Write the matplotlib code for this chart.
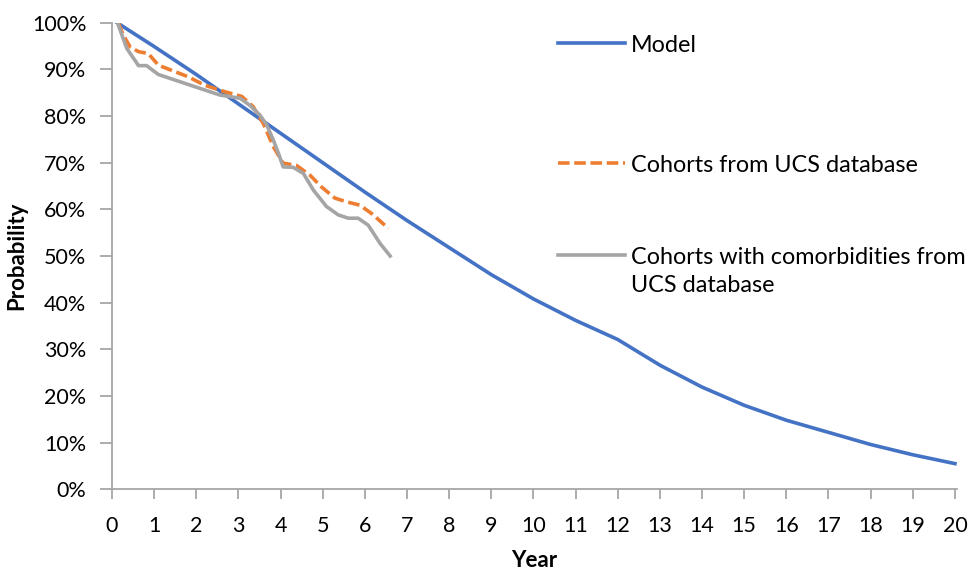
import matplotlib.pyplot as plt
from matplotlib.lines import Line2D
from matplotlib.ticker import PercentFormatter

plt.rcParams['font.family'] = ['Lato', 'DejaVu Sans']

# survival curves (year, probability)
model_years = [0.12, 1, 2, 3, 4, 5, 6, 7, 8, 9, 10, 11, 12, 13, 14, 15, 16, 17, 18, 19, 20]
model_prob = [1.0, 0.949, 0.889, 0.826, 0.763, 0.70, 0.637, 0.576, 0.518, 0.46, 0.408,
              0.362, 0.321, 0.266, 0.219, 0.18, 0.148, 0.122, 0.096, 0.074, 0.055]

ucs_years = [0.15, 0.27, 0.43, 0.63, 0.86, 1.10, 1.81, 2.20, 2.68, 3.08, 3.35, 3.59, 3.83,
             4.06, 4.38, 4.70, 4.97, 5.29, 5.57, 5.88, 6.16, 6.56]
ucs_prob = [1.0, 0.973, 0.948, 0.938, 0.934, 0.909, 0.884, 0.866, 0.852, 0.842, 0.82, 0.784,
            0.734, 0.699, 0.694, 0.673, 0.648, 0.624, 0.616, 0.609, 0.591, 0.559]

comorb_years = [0.13, 0.35, 0.63, 0.82, 1.10, 2.56, 2.84, 3.04, 3.27, 3.51, 3.67, 3.83, 3.95,
                4.06, 4.30, 4.54, 4.78, 5.09, 5.37, 5.61, 5.84, 6.08, 6.36, 6.60]
comorb_prob = [1.0, 0.945, 0.908, 0.908, 0.889, 0.845, 0.841, 0.838, 0.823, 0.802, 0.781,
               0.748, 0.72, 0.691, 0.69, 0.677, 0.641, 0.606, 0.588, 0.581, 0.581, 0.566,
               0.527, 0.50]

labels = ['Model', 'Cohorts from UCS database', 'Cohorts with comorbidities from', 'UCS database']
colors = ['#4472C4', '#ED7D31', '#A5A5A5']

fig = plt.figure(figsize=(9.73, 5.72), dpi=100)
ax = fig.add_axes([0.1151, 0.1446, 0.8685, 0.8157])

ax.plot(model_years, model_prob, color=colors[0], lw=2.6, solid_joinstyle='round')
ax.plot(ucs_years, ucs_prob, color=colors[1], lw=2.6, dashes=(3.2, 1.3))
ax.plot(comorb_years, comorb_prob, color=colors[2], lw=2.6, solid_joinstyle='round')

ax.set_xlim(0, 20.05)
ax.set_ylim(0, 1)
ax.set_xticks(range(0, 21))
ax.set_yticks([i / 10 for i in range(11)])
ax.yaxis.set_major_formatter(PercentFormatter(1.0, decimals=0))

for s in ['top', 'right']:
    ax.spines[s].set_visible(False)
for s in ['left', 'bottom']:
    ax.spines[s].set_color('#A6A6A6')
    ax.spines[s].set_linewidth(1.3)
ax.tick_params(axis='both', colors='#A6A6A6', labelcolor='black', labelsize=15.5, width=1.3)
ax.tick_params(axis='y', length=8.5, pad=10)
ax.tick_params(axis='x', length=7, pad=12)

ax.set_xlabel('Year', fontsize=16, fontweight='bold', labelpad=10)
ax.set_ylabel('Probability', fontsize=16, fontweight='bold', labelpad=3)

leg_size = 16.8

# legend entries placed one by one on the right side
def add_entry(color, text, y, dashed=False):
    h = Line2D([], [], color=color, lw=2.6)
    if dashed:
        h.set_dashes((3.2, 1.3))
    leg = fig.legend([h], [text], loc='center left', bbox_to_anchor=(558 / 973, 1 - y / 572),
                     frameon=False, fontsize=leg_size, handlelength=2.86, handletextpad=0.26,
                     borderpad=0, borderaxespad=0)
    return leg

add_entry(colors[0], labels[0], 45)
add_entry(colors[1], labels[1], 165, dashed=True)
add_entry(colors[2], labels[2], 257)
fig.text(631 / 973, 1 - 285 / 572, labels[3], fontsize=leg_size, va='center', ha='left')

fig.savefig('out.png', dpi=100)
